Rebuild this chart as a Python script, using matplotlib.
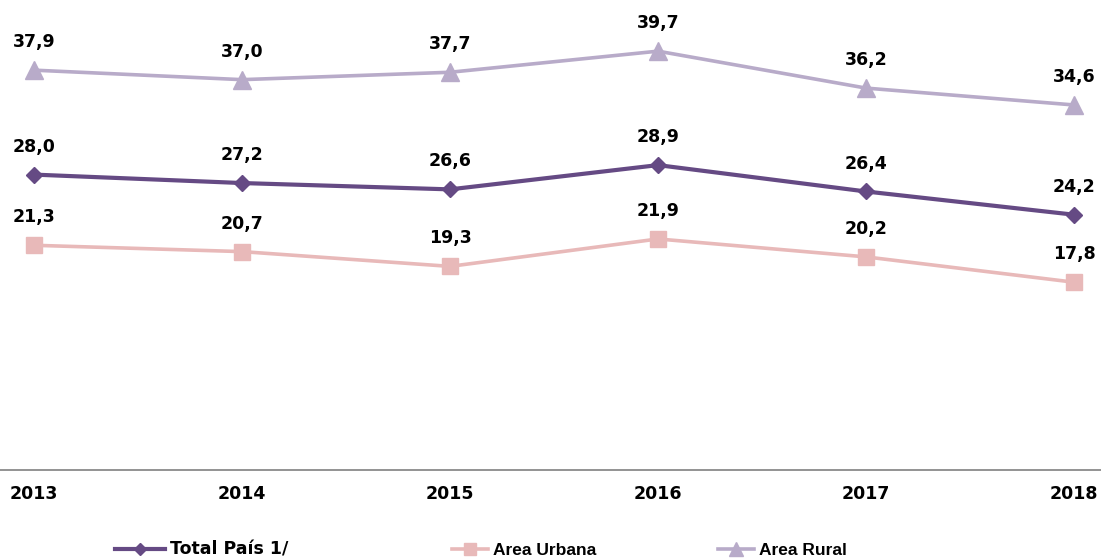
import matplotlib
matplotlib.use("Agg")
import matplotlib.pyplot as plt

years = [2013, 2014, 2015, 2016, 2017, 2018]
total = [28.0, 27.2, 26.6, 28.9, 26.4, 24.2]
urbana = [21.3, 20.7, 19.3, 21.9, 20.2, 17.8]
rural = [37.9, 37.0, 37.7, 39.7, 36.2, 34.6]
labels = ["Total País 1/", "Area Urbana", "Area Rural"]

plt.rcParams['font.family'] = ['DejaVu Sans']

fig = plt.figure(figsize=(11.01, 5.6), dpi=100)
ax = fig.add_axes([0, 1 - 470 / 560, 1, 470 / 560])

series = [
    (total, labels[0], '#654A84', 'D', 8.5, 3.0),
    (urbana, labels[1], '#E8B9B9', 's', 12, 2.6),
    (rural, labels[2], '#B8ABC9', '^', 13, 2.6),
]
handles = []
for vals, lab, col, mk, ms, lw in series:
    ln, = ax.plot(years, vals, color=col, marker=mk, markersize=ms, linewidth=lw,
                  label=lab, zorder=3)
    handles.append(ln)
    for x, v in zip(years, vals):
        ax.annotate(f"{v:.1f}".replace('.', ','), (x, v), xytext=(0, 16.5),
                    textcoords='offset points', ha='center', va='baseline',
                    fontsize=12.5, fontweight='bold', color='black')

ax.set_xlim(2013 - 34 / 208, 2018 + 27 / 208)
ax.set_ylim(0, 44.55)
for s in ['top', 'right', 'left']:
    ax.spines[s].set_visible(False)
ax.spines['bottom'].set_color('#808080')
ax.spines['bottom'].set_linewidth(1.2)
ax.set_yticks([])
ax.set_xticks(years)
ax.set_xticklabels([str(y) for y in years], fontsize=12.5, fontweight='bold')
ax.tick_params(axis='x', length=0, pad=10.5)

# legend entries placed individually (as in reference layout)
leg_specs = [
    (handles[0], labels[0], 115, ['DejaVu Sans'], 12.5, 2.9),
    (handles[1], labels[1], 452, ['Liberation Sans', 'DejaVu Sans'], 12.5, 2.1),
    (handles[2], labels[2], 718, ['Liberation Sans', 'DejaVu Sans'], 12.5, 2.1),
]
for h, lab, xpx, fam, fs, hl in leg_specs:
    fig.legend([h], [lab], loc='center left',
               bbox_to_anchor=(xpx / 1101, 1 - 550 / 560),
               frameon=False, borderpad=0, borderaxespad=0,
               prop={'size': fs, 'weight': 'bold', 'family': fam},
               handlelength=hl, handletextpad=0.25, markerscale=0.75)

fig.savefig('out.png', dpi=100)
